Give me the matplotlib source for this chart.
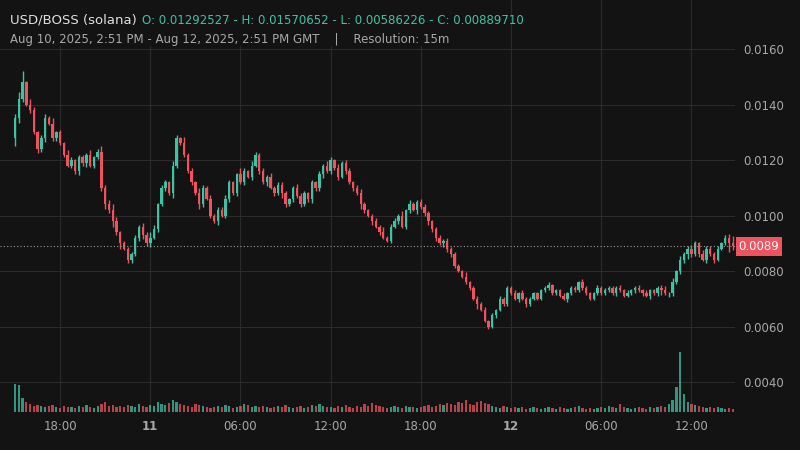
import matplotlib
matplotlib.use("Agg")
import matplotlib.pyplot as plt
from matplotlib.patches import Rectangle

# closes in 1e-4 units
closes = [135,142,148,140, 138,130,124,128,135,133,128,130,126,
          122,118,120,116,121,119,122,118,121,123,
          110,104,102,98,94,90,88,84,86, 92,96,93,90,92,
          95,104,110,112,108,118,128,126,122, 116,112,108,104,110,106,100,98,
          102,100,106,112,108, 115,112,116,114,118,122,116,
          112,114,110,108,111,108,104,106,110,107, 104,108,106,112,110,115,118,116,
          120,117,114,119,116,112, 110,108,104,102,100,98,96,94,92,91,96,
          98,100,96,102,104,102,105,103,101,98,95,
          92,90,91,88,86,82,80,78,76,74,70,68,66, 62,60,64,66, 70,68,74,72,70,72,
          70,68,70,72,70,73,74,75,72,73,71, 70,72,74,73,76,74,72,70,72,74,72,
          73,74,72,74,73,71,72,73,74,73,72,71,73,72,74,73,72,
          72,76,80,84,86,88,86, 90,86,84,88,86,84,88,90,92,90,89]
first_open = 128
upper_wick = "3581421232412132122131242343121221324312213215121421312232114213212131222113221212132131221232112141221313212211221212113112221212111212111111211121111211121211121211212111231313223213222212"
lower_wick = "6321213231221212232312123242412212323121213212121321213122121212121312132121212322312121212132131211212122131232213222111213112121111121211111211112111211111111211112121212313212232121212111"
volumes = [28,27,14,10,8,6,7,6,5,6,7,5,4,6,5,5,4,6,5,7,5,4,6,8,10,6,7,5,6,5,7,6,5,8,6,5,7,
           6,10,8,7,9,12,10,8,7,6,5,8,7,6,5,4,5,6,5,7,6,4,5,6,8,7,5,6,5,6,5,4,5,6,5,7,5,4,5,
           6,4,5,7,6,8,6,5,5,4,6,5,7,5,4,6,5,8,6,9,7,6,5,4,5,6,5,4,6,5,5,4,5,6,7,5,6,8,7,9,
           8,7,10,9,12,8,7,10,11,9,8,6,5,4,6,5,4,5,4,5,3,4,5,4,3,4,5,4,3,5,4,3,4,5,6,4,3,4,3,
           4,5,4,6,5,4,8,5,4,3,4,5,4,3,5,4,5,6,5,8,12,25,60,18,10,8,7,6,5,4,5,4,5,4,3,4,3,4]
xtick_idx = [12,36,60,84,108,132,156,180]
xtick_labels = ["18:00","11","06:00","12:00","18:00","12","06:00","12:00"]
ytick_vals = [0.0040,0.0060,0.0080,0.0100,0.0120,0.0140,0.0160]
last_price = 0.0088971

BG = "#131313"; UP = "#3cc3a4"; DN = "#f0525e"; GRID = "#2b2b2b"; TXT = "#a8a8a8"

n = len(closes)
opens = [first_open] + closes[:-1]
fig = plt.figure(figsize=(8,4.5), dpi=100, facecolor=BG)
ax = fig.add_axes([0, 1-412/450, 735/800, 412/450])
ax.set_facecolor(BG)
axv = ax.twinx()
axv.set_ylim(0, 412)
axv.set_axis_off()
for i in range(n):
    o, c = opens[i]*1e-4, closes[i]*1e-4
    up = c >= o
    col = UP if up else DN
    hi = max(o,c) + int(upper_wick[i % len(upper_wick)])*0.5e-4
    lo = min(o,c) - int(lower_wick[i % len(lower_wick)])*0.5e-4
    ax.vlines(i, lo, hi, color=col, lw=1, zorder=3)
    body = max(abs(c-o), 0.4e-5)
    ax.add_patch(Rectangle((i-0.32, min(o,c)), 0.64, body, color=col, zorder=4, lw=0))
    v = volumes[i] if i < len(volumes) else 4
    axv.bar(i, v, width=0.6, color=col, alpha=0.75, zorder=2)
ax.set_xlim(-4, 191.6)
ax.set_ylim(0.00292, 0.01777)
ax.set_xticks(xtick_idx)
ax.set_xticklabels(xtick_labels)
for lab in ax.get_xticklabels():
    if lab.get_text() in ("11","12"):
        lab.set_fontweight("bold"); lab.set_color("#e8e8e8")
ax.yaxis.tick_right()
ax.set_yticks(ytick_vals)
ax.set_yticklabels([f"{v:.4f}" for v in ytick_vals])
ax.tick_params(colors=TXT, labelsize=8.5, length=0, pad=6)
ax.grid(True, color=GRID, lw=0.8, zorder=0)
for s in ax.spines.values(): s.set_visible(False)
ax.axhline(last_price, color="#999999", lw=0.8, ls=(0,(1,2)), zorder=5)
ax.text(1.005, last_price, "0.0089", transform=ax.get_yaxis_transform(), color="white",
        fontsize=8.5, va="center", ha="left",
        bbox=dict(boxstyle="square,pad=0.25", fc=DN, ec="none"), clip_on=False)
ax.add_patch(Rectangle((0, 0.89), 0.675, 0.11, transform=ax.transAxes, color=BG, zorder=6))
fig.text(10/800, 1-20/450, "USD/BOSS (solana)", color="#e0e0e0", fontsize=9.5, va="center")
fig.text(142/800, 1-20/450, "O: 0.01292527 - H: 0.01570652 - L: 0.00586226 - C: 0.00889710",
         color=UP, fontsize=8.5, va="center")
fig.text(10/800, 1-40/450, "Aug 10, 2025, 2:51 PM - Aug 12, 2025, 2:51 PM GMT    |    Resolution: 15m",
         color=TXT, fontsize=8.5, va="center")
fig.savefig("out.png", dpi=100, facecolor=BG)
